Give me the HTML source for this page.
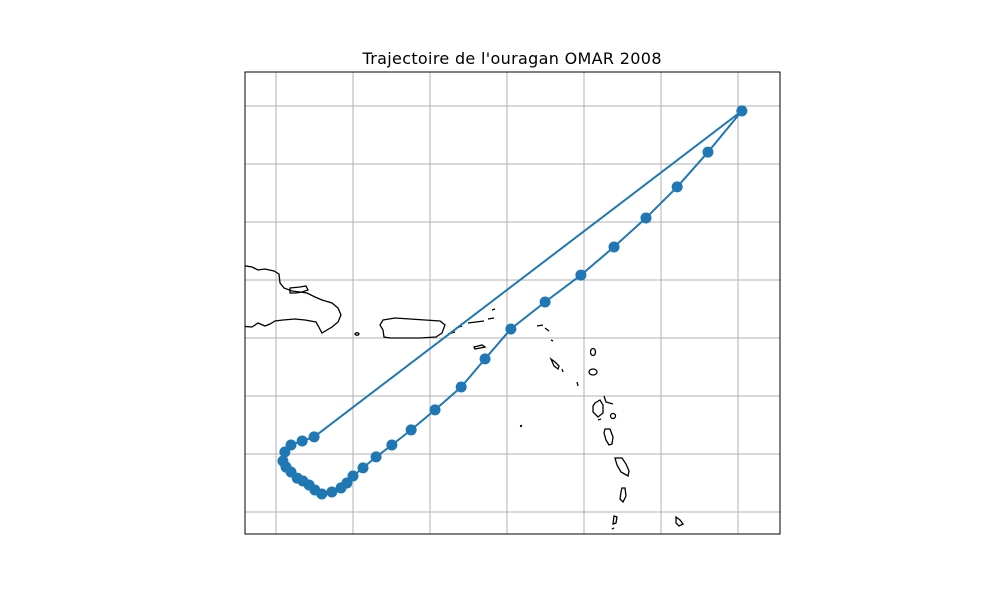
<!DOCTYPE html>
<html><head><meta charset="utf-8"><style>
body{margin:0;background:#fff}
svg{display:block;font-family:"DejaVu Sans","Liberation Sans",sans-serif}
</style></head><body>
<svg id="c" width="1000" height="600">
<text x="512" y="64" text-anchor="middle" font-size="16" textLength="299">Trajectoire de l'ouragan OMAR 2008</text>
<defs><clipPath id="clip"><rect x="245" y="72" width="535" height="462"/></clipPath></defs>
<g id="grid"></g>
<g clip-path="url(#clip)" fill="none" stroke="#000" stroke-width="1.3">
<path d="M240,265 L252,267 L258,270 L265,269 L274,271 L279,274 L280,283 L284,288 L292,291 L300,292 L307,293 L315,297 L322,300 L332,303 L338,308 L341,315 L338,322 L332,327 L327,330 L322,333 L316,322 L305,320 L295,319 L283,320 L275,321 L270,324 L265,326 L258,323 L252,327 L240,326"/>
<path d="M290,288 L300,287 L306,286 L308,290 L302,292 L296,293 L290,293 Z"/>
<path d="M383,320 L395,318 L410,319 L425,320 L440,321 L445,325 L442,333 L436,337 L420,338 L405,338 L390,338 L384,337 L383,330 L380,325 Z"/>
<ellipse cx="357" cy="334" rx="2" ry="1.2"/>
<path d="M456,328 L462,326 M468,323 L476,322 L484,321 M488,319 L494,318 M492,310 L495,309 M448,334 L455,332"/>
<path d="M474,347 L482,345 L485,347 L475,349 Z"/>
<path d="M537,326 L543,325 M545,328 L549,331 M551,340 L553,341"/>
<path d="M551,359 L555,362 L559,366 L558,369 L554,366 Z M562,369 L563,372 M577,382 L578,386"/>
<ellipse cx="593" cy="352" rx="2.5" ry="3.5"/>
<ellipse cx="593" cy="372" rx="4" ry="3"/>
<path d="M595,403 L600,400 L603,405 L603,413 L598,417 L593,412 L593,406 Z M604,396 L606,402 L613,404 M598,420 L601,419"/>
<ellipse cx="613" cy="416" rx="2.5" ry="2.5"/>
<path d="M605,429 L610,429 L613,437 L612,444 L609,445 L606,440 L604,433 Z"/>
<path d="M615,458 L622,458 L626,464 L629,471 L628,476 L621,472 L617,465 Z"/>
<path d="M622,488 L625,488 L626,496 L623,502 L620,499 L621,492 Z"/>
<path d="M614,516 L617,517 L616,523 L613,524 Z M612,529 L614,528"/>
<path d="M676,517 L680,520 L683,524 L679,526 L676,523 Z"/>
<circle cx="521" cy="426" r="0.5"/>
</g>
<g id="track" clip-path="url(#clip)"></g>
<rect x="245" y="72" width="535" height="462" fill="none" stroke="#000" stroke-width="1"/>
</svg>
<script>
const gridLons=[-72,-70,-68,-66,-64,-62,-60];
const gridLats=[24,22,20,18,16,14,12,10];
const trackLon=[-71.01,-71.32,-71.61,-71.77,-71.82,-71.74,-71.61,-71.45,-71.30,-71.14,-70.99,-70.81,-70.55,-70.31,-70.16,-70.0,-69.74,-69.40,-68.99,-68.49,-67.87,-67.19,-66.57,-65.90,-65.01,-64.08,-63.22,-62.39,-61.58,-60.78,-59.90];
const trackLat=[12.59,12.45,12.31,12.07,11.76,11.55,11.38,11.17,11.07,10.93,10.76,10.62,10.69,10.83,11.0,11.24,11.52,11.90,12.31,12.83,13.52,14.31,15.28,16.31,17.24,18.17,19.14,20.14,21.21,22.41,23.83];
const NS='http://www.w3.org/2000/svg';
function xs(lon){return 276+(lon+72)*38.5;}
function ys(lat){return 106+(24-lat)*29;}
const grid=document.getElementById('grid');
gridLons.forEach(v=>{const l=document.createElementNS(NS,'line');
l.setAttribute('x1',xs(v));l.setAttribute('x2',xs(v));l.setAttribute('y1',72);l.setAttribute('y2',534);
l.setAttribute('stroke','#b0b0b0');l.setAttribute('stroke-width','1');


grid.appendChild(l);});
gridLats.forEach(v=>{const l=document.createElementNS(NS,'line');
l.setAttribute('y1',ys(v));l.setAttribute('y2',ys(v));l.setAttribute('x1',245);l.setAttribute('x2',780);
l.setAttribute('stroke','#b0b0b0');l.setAttribute('stroke-width','1');


grid.appendChild(l);});
const tr=document.getElementById('track');
let pts=trackLon.map((lo,i)=>xs(lo).toFixed(1)+','+ys(trackLat[i]).toFixed(1));
pts.push(pts[0]);
const pl=document.createElementNS(NS,'polyline');
pl.setAttribute('points',pts.join(' '));
pl.setAttribute('fill','none');pl.setAttribute('stroke','#1f77b4');pl.setAttribute('stroke-width','2');


tr.appendChild(pl);
trackLon.forEach((lo,i)=>{const c=document.createElementNS(NS,'circle');
c.setAttribute('cx',xs(lo));c.setAttribute('cy',ys(trackLat[i]));c.setAttribute('r',5.5);c.setAttribute('fill','#1f77b4');


tr.appendChild(c);});
</script>
</body></html>
